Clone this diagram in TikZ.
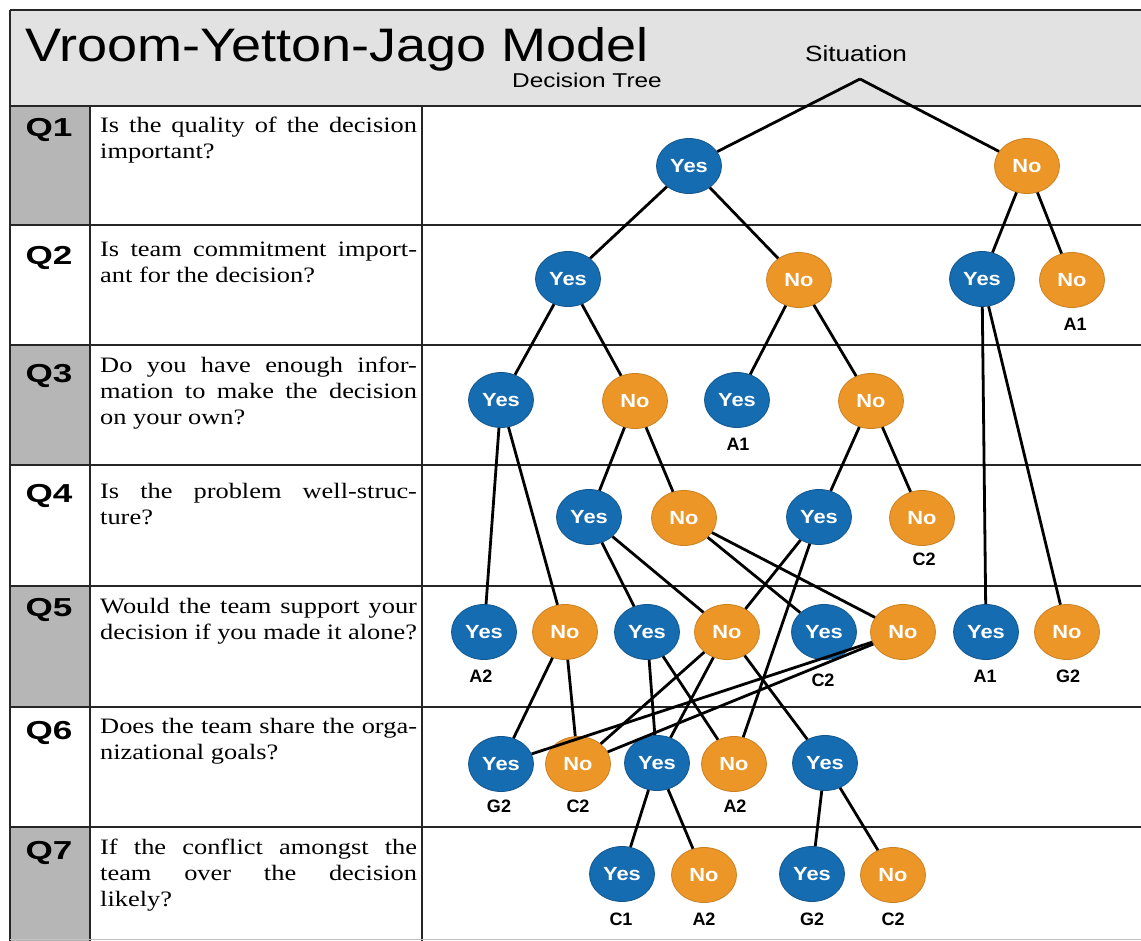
\documentclass[tikz,border=0pt]{standalone}
\usepackage{graphicx}
\usepackage{fontspec}
\setmainfont{Liberation Serif}
\newfontfamily\hsans{Liberation Sans}
\usetikzlibrary{shapes.geometric}
\definecolor{yesblue}{RGB}{22,108,176}
\definecolor{noorange}{RGB}{236,150,40}
\definecolor{bandgray}{RGB}{226,226,226}
\definecolor{qgray}{RGB}{182,182,182}
\newcommand{\ystr}{\scalebox{1.15}[1]{Yes}}
\newcommand{\nstr}{\scalebox{1.15}[1]{No}}
\newcommand{\jline}[1]{\makebox[264pt][s]{#1}}
\newcommand{\qtext}[1]{\scalebox{1.2}[1]{\parbox[t]{264pt}{\fontsize{22}{26}\selectfont #1}}}
\begin{document}
\begin{tikzpicture}[x=1pt,y=-1pt,
  yesnode/.style={ellipse, fill=yesblue, draw=yesblue!80!black, line width=0.8pt,
    minimum width=65pt, minimum height=55pt, inner sep=0pt, text=white,
    font=\hsans\bfseries\fontsize{19}{19}\selectfont},
  nonode/.style={ellipse, fill=noorange, draw=noorange!85!black, line width=0.8pt,
    minimum width=65pt, minimum height=55pt, inner sep=0pt, text=white,
    font=\hsans\bfseries\fontsize{19}{19}\selectfont},
  res/.style={inner sep=0pt, font=\hsans\bfseries\fontsize{18}{18}\selectfont},
  qlabel/.style={anchor=base, inner sep=0pt, font=\hsans\bfseries\fontsize{26}{26}\selectfont},
  qbody/.style={anchor=base west, inner sep=0pt, align=left},
  edge/.style={line width=2.8pt, black},
  frameline/.style={line width=2.2pt, black!85}]
\useasboundingbox (0,0) rectangle (1141,941);

% title band and shaded question cells
\fill[bandgray] (10,10) rectangle (1141,106);
\fill[qgray] (10,106) rectangle (90,225);
\fill[qgray] (10,345) rectangle (90,465);
\fill[qgray] (10,586) rectangle (90,707);
\fill[qgray] (10,827) rectangle (90,941);

% frame
\draw[frameline] (10,10) -- (1141,10);
\draw[frameline] (10,10) -- (10,941);
\foreach \yy in {106,225,345,465,586,707,827}
  \draw[frameline] (10,\yy) -- (1141,\yy);
\draw[frameline] (90,106) -- (90,941);
\draw[frameline] (422,106) -- (422,941);
\draw[black!25, line width=1pt] (10,939) -- (1141,939);

% title
\node[anchor=base west, inner sep=0pt] (title) at (25,62)
  {\scalebox{1.15}[1]{\hsans\fontsize{47}{47}\selectfont Vroom-Yetton-Jago Model}};
\node[anchor=base east, inner sep=0pt] (subtitle) at (662,88)
  {\scalebox{1.22}[1]{\hsans\fontsize{20}{20}\selectfont Decision Tree}};
\node[anchor=base, inner sep=0pt] (situation) at (856,62)
  {\scalebox{1.19}[1]{\hsans\fontsize{22}{22}\selectfont Situation}};
\coordinate (apex) at (860,79);

% question labels
\node[qlabel] (Q1) at (49,137) {\scalebox{1.35}[1]{Q1}};
\node[qlabel] (Q2) at (49,265) {\scalebox{1.35}[1]{Q2}};
\node[qlabel] (Q3) at (49,382) {\scalebox{1.35}[1]{Q3}};
\node[qlabel] (Q4) at (49,502) {\scalebox{1.35}[1]{Q4}};
\node[qlabel] (Q5) at (49,616) {\scalebox{1.35}[1]{Q5}};
\node[qlabel] (Q6) at (49,739) {\scalebox{1.35}[1]{Q6}};
\node[qlabel] (Q7) at (49,859) {\scalebox{1.35}[1]{Q7}};

% question texts
\node[qbody] (t1) at (100,133) {\qtext{\jline{Is the quality of the decision}\\important?}};
\node[qbody] (t2) at (100,257) {\qtext{\jline{Is team commitment import-}\\ant for the decision?}};
\node[qbody] (t3) at (100,373) {\qtext{\jline{Do you have enough infor-}\\\jline{mation to make the decision}\\on your own?}};
\node[qbody] (t4) at (100,498) {\qtext{\jline{Is the problem well-struc-}\\ture?}};
\node[qbody] (t5) at (100,613) {\qtext{\jline{Would the team support your}\\\jline{decision if you made it alone?}}};
\node[qbody] (t6) at (100,733) {\qtext{\jline{Does the team share the orga-}\\nizational goals?}};
\node[qbody] (t7) at (100,854) {\qtext{\jline{If the conflict amongst the}\\\jline{team over the decision}\\likely?}};

% tree nodes
\node[yesnode] (q1y) at (689,166) {\ystr};
\node[nonode]  (q1n) at (1027,166) {\nstr};

\node[yesnode] (q2ya) at (568,279) {\ystr};
\node[nonode]  (q2na) at (799,280) {\nstr};
\node[yesnode] (q2yb) at (982,279) {\ystr};
\node[nonode]  (q2nb) at (1072,280) {\nstr};

\node[yesnode] (q3ya) at (501,400) {\ystr};
\node[nonode]  (q3na) at (635,401) {\nstr};
\node[yesnode] (q3yb) at (737,400) {\ystr};
\node[nonode]  (q3nb) at (871,401) {\nstr};

\node[yesnode] (q4ya) at (589,517) {\ystr};
\node[nonode]  (q4na) at (684,518) {\nstr};
\node[yesnode] (q4yb) at (819,517) {\ystr};
\node[nonode]  (q4nb) at (922,518) {\nstr};

\node[yesnode] (q5ya) at (484,632) {\ystr};
\node[nonode]  (q5na) at (565,632) {\nstr};
\node[yesnode] (q5yb) at (647,632) {\ystr};
\node[nonode]  (q5nb) at (727,632) {\nstr};
\node[yesnode] (q5yc) at (824,632) {\ystr};
\node[nonode]  (q5nc) at (903,632) {\nstr};
\node[yesnode] (q5yd) at (986,632) {\ystr};
\node[nonode]  (q5nd) at (1067,632) {\nstr};

\node[yesnode] (q6ya) at (501,764) {\ystr};
\node[nonode]  (q6na) at (578,764) {\nstr};
\node[yesnode] (q6yb) at (657,763) {\ystr};
\node[nonode]  (q6nb) at (734,764) {\nstr};
\node[yesnode] (q6yc) at (825,763) {\ystr};

\node[yesnode] (q7ya) at (622,874) {\ystr};
\node[nonode]  (q7na) at (704,875) {\nstr};
\node[yesnode] (q7yb) at (812,874) {\ystr};
\node[nonode]  (q7nb) at (893,875) {\nstr};

% outcome labels
\node[res] (r2nb) at (1075,324) {A1};
\node[res] (r3yb) at (738,444) {A1};
\node[res] (r4nb) at (924,559) {C2};
\node[res] (r5ya) at (481,676) {A2};
\node[res] (r5yc) at (823,680) {C2};
\node[res] (r5yd) at (985,676) {A1};
\node[res] (r5nd) at (1068,676) {G2};
\node[res] (r6ya) at (499,806) {G2};
\node[res] (r6na) at (578,806) {C2};
\node[res] (r6nb) at (735,806) {A2};
\node[res] (r7ya) at (621,919) {C1};
\node[res] (r7na) at (704,919) {A2};
\node[res] (r7yb) at (812,919) {G2};
\node[res] (r7nb) at (893,919) {C2};

% connectors
\draw[edge] (apex) -- (q1y);
\draw[edge] (apex) -- (q1n);
\draw[edge] (q1y) -- (q2ya);
\draw[edge] (q1y) -- (q2na);
\draw[edge] (q1n) -- (q2yb);
\draw[edge] (q1n) -- (q2nb);
\draw[edge] (q2ya) -- (q3ya);
\draw[edge] (q2ya) -- (q3na);
\draw[edge] (q2na) -- (q3yb);
\draw[edge] (q2na) -- (q3nb);
\draw[edge] (q2yb) -- (q5yd);
\draw[edge] (q2yb) -- (q5nd);
\draw[edge] (q3ya) -- (q5ya);
\draw[edge] (q3ya) -- (q5na);
\draw[edge] (q3na) -- (q4ya);
\draw[edge] (q3na) -- (q4na);
\draw[edge] (q3nb) -- (q4yb);
\draw[edge] (q3nb) -- (q4nb);
\draw[edge] (q4ya) -- (q5yb);
\draw[edge] (q4ya) -- (q5nb);
\draw[edge] (q4na) -- (q5yc);
\draw[edge] (q4na) -- (q5nc);
\draw[edge] (q4yb) -- (q5nb);
\draw[edge] (q4yb) -- (q6nb);
\draw[edge] (q5na) -- (q6ya);
\draw[edge] (q5na) -- (q6na);
\draw[edge] (q5yb) -- (q6yb);
\draw[edge] (q5yb) -- (q6nb);
\draw[edge] (q5nb) -- (q6na);
\draw[edge] (q5nb) -- (q6yb);
\draw[edge] (q5nb) -- (q6yc);
\draw[edge] (q5nc) -- (q6ya);
\draw[edge] (q5nc) -- (q6na);
\draw[edge] (q6yb) -- (q7ya);
\draw[edge] (q6yb) -- (q7na);
\draw[edge] (q6yc) -- (q7yb);
\draw[edge] (q6yc) -- (q7nb);
\end{tikzpicture}
\end{document}
